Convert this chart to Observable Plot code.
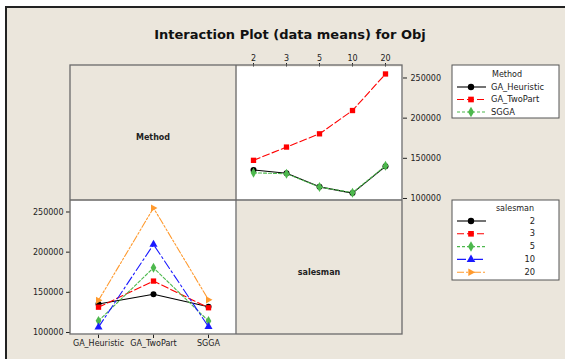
<!DOCTYPE html>
<html>
<head>
<meta charset="utf-8">
<script src="https://cdn.jsdelivr.net/npm/d3@7"></script>
<script src="https://cdn.jsdelivr.net/npm/@observablehq/plot@0.6"></script>
<style>
  html, body { margin: 0; padding: 0; background: #ffffff; }
  #wrap { position: relative; width: 565px; height: 359px; overflow: hidden; background: #ffffff; }
  #frame { position: absolute; left: 5px; top: 6px; width: 600px; height: 400px; background: #ebe6dc; border: 2px solid #222; box-sizing: border-box; }
  .abs { position: absolute; }
  svg { overflow: visible; }
</style>
</head>
<body>
<div id="wrap"><div id="frame"></div></div>
<script>
// ---- data ----
const salesman = ["2", "3", "5", "10", "20"];
const methods = ["GA_Heuristic", "GA_TwoPart", "SGGA"];
const gaHeuristic = [135500, 131500, 114500, 106700, 140000];
const gaTwoPart   = [147500, 164000, 180500, 209500, 255000];
const sgga        = [132000, 130800, 114300, 107200, 140700];
const yTicks = [100000, 150000, 200000, 250000];
const titleText = "Interaction Plot (data means) for Obj";

// ---- styles ----
const rightTri = {
  draw(ctx, size) {
    const r = Math.sqrt(size / 2.2);
    ctx.moveTo(r * 1.1, 0);
    ctx.lineTo(-r * 0.7, -r);
    ctx.lineTo(-r * 0.7, r);
    ctx.closePath();
  }
};
const styleSet = [
  {color: "#000000", dash: null, symbol: "circle"},
  {color: "#ff0000", dash: "7,3", symbol: "square"},
  {color: "#4db84d", dash: "3,2", symbol: "diamond"},
  {color: "#1a1aff", dash: "9,3,2,3", symbol: "triangle"},
  {color: "#ff9a2e", dash: "7,2,2,2,2,2", symbol: rightTri}
];
const methodValues = [gaHeuristic, gaTwoPart, sgga];
const yDomain = [97500, 264300];
const font = {fontFamily: "DejaVu Sans", fontSize: "8px", background: "transparent", overflow: "visible", color: "#222"};

const wrap = document.getElementById("wrap");

// ---- top-right: Method lines across salesman ----
{
  const marks = [Plot.frame({fill: "white", stroke: null})];
  methodValues.forEach((vals, k) => {
    const st = styleSet[k];
    const rows = salesman.map((s, i) => ({s, v: vals[i]}));
    marks.push(Plot.line(rows, {x: "s", y: "v", stroke: st.color, strokeWidth: 1.1, strokeDasharray: st.dash}));
    marks.push(Plot.dot(rows, {x: "s", y: "v", fill: st.color, stroke: null, symbol: st.symbol, r: 3}));
  });
  const p = Plot.plot({
    width: 166 + 50, height: 134 + 20,
    marginLeft: 0, marginRight: 50, marginTop: 20, marginBottom: 0,
    style: font,
    x: {type: "point", domain: salesman, padding: 0.5, axis: "top", tickSize: 4, tickPadding: 2, label: null},
    y: {domain: yDomain, axis: "right", ticks: yTicks, tickFormat: d => String(d), tickSize: 4, tickPadding: 4, label: null},
    marks
  });
  p.classList.add("abs");
  p.style.left = "236px"; p.style.top = "46px";
  wrap.appendChild(p);
}

// ---- bottom-left: salesman lines across Method ----
{
  const marks = [Plot.frame({fill: "white", stroke: null})];
  salesman.forEach((s, i) => {
    const st = styleSet[i];
    const rows = methods.map((m, k) => ({m, v: methodValues[k][i]}));
    marks.push(Plot.line(rows, {x: "m", y: "v", stroke: st.color, strokeWidth: 1.1, strokeDasharray: st.dash}));
    marks.push(Plot.dot(rows, {x: "m", y: "v", fill: st.color, stroke: null, symbol: st.symbol, r: 3}));
  });
  const p = Plot.plot({
    width: 70 + 166, height: 134 + 20,
    marginLeft: 70, marginRight: 0, marginTop: 0, marginBottom: 20,
    style: font,
    x: {type: "point", domain: methods, padding: 0.5, axis: "bottom", tickSize: 4, tickPadding: 2, label: null},
    y: {domain: yDomain, axis: "left", ticks: yTicks, tickFormat: d => String(d), tickSize: 4, tickPadding: 3, label: null},
    marks
  });
  p.classList.add("abs");
  p.style.left = "0px"; p.style.top = "200px";
  wrap.appendChild(p);
}

// ---- overlay: grid, labels, legends ----
const svg = d3.select(wrap).append("svg").attr("class", "abs")
  .attr("width", 565).attr("height", 359).style("left", "0px").style("top", "0px")
  .style("font-family", "DejaVu Sans");

svg.append("text").attr("x", 290).attr("y", 35).attr("text-anchor", "middle").attr("dominant-baseline", "middle")
  .attr("font-size", 13).attr("font-weight", "bold").attr("fill", "#111").text(titleText);

const gx0 = 70, gx1 = 236, gx2 = 402, gy0 = 65, gy1 = 200, gy2 = 334;
const grid = svg.append("g").attr("stroke", "#6a6a6a").attr("stroke-width", 1.3).attr("fill", "none");
grid.append("rect").attr("x", gx0).attr("y", gy0).attr("width", gx2 - gx0).attr("height", gy2 - gy0);
grid.append("line").attr("x1", gx1).attr("x2", gx1).attr("y1", gy0).attr("y2", gy2);
grid.append("line").attr("x1", gx0).attr("x2", gx2).attr("y1", gy1).attr("y2", gy1);

svg.append("text").attr("x", 153).attr("y", 137).attr("text-anchor", "middle").attr("dominant-baseline", "middle")
  .attr("font-size", 8).attr("font-weight", "bold").attr("fill", "#222").text("Method");
svg.append("text").attr("x", 319).attr("y", 272).attr("text-anchor", "middle").attr("dominant-baseline", "middle")
  .attr("font-size", 8).attr("font-weight", "bold").attr("fill", "#222").text("salesman");

function legend(x, y, w, h, title, titleX, labels, styles, textX, anchor, y0, dy) {
  const g = svg.append("g");
  g.append("rect").attr("x", x).attr("y", y).attr("width", w).attr("height", h)
    .attr("fill", "white").attr("stroke", "#555").attr("stroke-width", 1);
  g.append("text").attr("x", titleX).attr("y", y0 - dy).attr("text-anchor", "middle").attr("dominant-baseline", "middle")
    .attr("font-size", 8).attr("fill", "#222").text(title);
  labels.forEach((lab, i) => {
    const st = styles[i];
    const yy = y0 + i * dy;
    g.append("line").attr("x1", 457).attr("x2", 486).attr("y1", yy).attr("y2", yy)
      .attr("stroke", st.color).attr("stroke-width", 1.1).attr("stroke-dasharray", st.dash);
    const sym = typeof st.symbol === "string"
      ? {circle: d3.symbolCircle, square: d3.symbolSquare, diamond: d3.symbolDiamond, triangle: d3.symbolTriangle}[st.symbol]
      : st.symbol;
    g.append("path").attr("transform", `translate(471,${yy})`).attr("d", d3.symbol(sym, 32)()).attr("fill", st.color);
    g.append("text").attr("x", textX).attr("y", yy).attr("text-anchor", anchor).attr("dominant-baseline", "middle")
      .attr("font-size", 8.3).attr("fill", "#222").text(lab);
  });
}
legend(452, 65, 107, 53, "Method", 507, methods, styleSet.slice(0, 3), 491, "start", 87, 12.5);
legend(452, 200, 107, 80, "salesman", 515, salesman, styleSet, 535, "end", 221, 12.8);
</script>
</body>
</html>
